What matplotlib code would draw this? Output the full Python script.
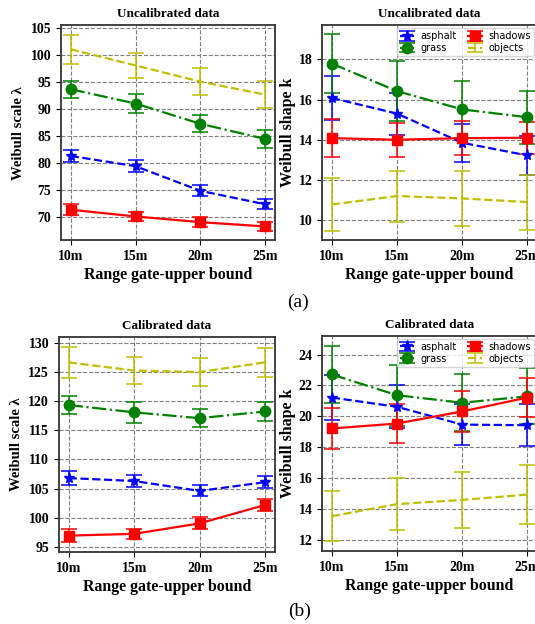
import numpy as np
import matplotlib.pyplot as plt

plt.rcParams['font.family'] = ['Liberation Serif', 'DejaVu Serif']

ranges = ['10m', '15m', '20m', '25m']
classes = ['asphalt', 'grass', 'shadows', 'objects']

# Weibull scale (lambda), uncalibrated: mean and error half-width
scale_unc = {
    'asphalt': [81.35, 79.45, 74.9, 72.4],
    'grass':   [93.7, 91.05, 87.3, 84.5],
    'shadows': [71.4, 70.15, 69.1, 68.3],
    'objects': [101.1, 98.1, 95.1, 92.7],
}
scale_unc_err = {
    'asphalt': [1.15, 1.15, 1.0, 0.95],
    'grass':   [1.6, 1.75, 1.6, 1.7],
    'shadows': [1.0, 0.9, 0.9, 0.8],
    'objects': [2.65, 2.35, 2.5, 2.5],
}

# Weibull shape (k), uncalibrated
shape_unc = {
    'asphalt': [16.08, 15.3, 13.85, 13.22],
    'grass':   [17.79, 16.42, 15.51, 15.12],
    'shadows': [14.08, 14.0, 14.08, 14.1],
    'objects': [10.78, 11.2, 11.08, 10.9],
}
shape_unc_err = {
    'asphalt': [1.1, 1.05, 0.95, 0.95],
    'grass':   [1.47, 1.5, 1.4, 1.33],
    'shadows': [0.95, 0.85, 0.83, 0.8],
    'objects': [1.3, 1.27, 1.35, 1.37],
}

# Weibull scale (lambda), calibrated
scale_cal = {
    'asphalt': [106.8, 106.3, 104.6, 106.1],
    'grass':   [119.3, 118.05, 117.05, 118.2],
    'shadows': [96.95, 97.25, 99.05, 102.2],
    'objects': [126.6, 125.2, 124.95, 126.6],
}
scale_cal_err = {
    'asphalt': [1.2, 1.05, 0.95, 1.05],
    'grass':   [1.6, 1.75, 1.5, 1.6],
    'shadows': [1.05, 0.9, 1.05, 1.05],
    'objects': [2.65, 2.3, 2.45, 2.5],
}

# Weibull shape (k), calibrated
shape_cal = {
    'asphalt': [21.22, 20.62, 19.47, 19.43],
    'grass':   [22.71, 21.37, 20.88, 21.3],
    'shadows': [19.22, 19.54, 20.32, 21.22],
    'objects': [13.55, 14.33, 14.6, 14.95],
}
shape_cal_err = {
    'asphalt': [1.47, 1.4, 1.33, 1.37],
    'grass':   [1.85, 1.98, 1.85, 1.8],
    'shadows': [1.32, 1.23, 1.3, 1.25],
    'objects': [1.62, 1.67, 1.83, 1.92],
}

styles = {
    'asphalt': dict(color='b', ls='--', marker='*', ms=8),
    'grass':   dict(color='g', ls='-.', marker='o', ms=7.5),
    'shadows': dict(color='r', ls='-', marker='s', ms=7.5),
    'objects': dict(color='y', ls='--', marker='', ms=0),
}

fig = plt.figure(figsize=(5.35, 6.24), dpi=100)
ax_tl = fig.add_axes([0.114, 0.615, 0.400, 0.3446])
ax_tr = fig.add_axes([0.602, 0.615, 0.402, 0.3446])
ax_bl = fig.add_axes([0.110, 0.1154, 0.404, 0.3446])
ax_br = fig.add_axes([0.602, 0.117, 0.402, 0.3446])

x = np.arange(len(ranges))


def draw(ax, vals, errs, title, ylabel, ylim, ylabel_size, ylabel_pad, legend=False):
    for c in classes:
        st = styles[c]
        ax.errorbar(x, vals[c], yerr=errs[c], color=st['color'], ls=st['ls'],
                    marker=st['marker'], ms=st['ms'], lw=1.6, elinewidth=1.1,
                    capsize=5.5, capthick=1.1, label=c)
    ax.set_xticks(x)
    ax.set_xticklabels(ranges)
    ax.set_xlim(-0.15, 3.15)
    ax.set_ylim(*ylim)
    ax.grid(True, ls='--', color='gray', lw=0.8)
    ax.set_axisbelow(True)
    for sp in ax.spines.values():
        sp.set_color('#333333')
        sp.set_linewidth(1.3)
    ax.tick_params(labelsize=10)
    for lab in ax.get_xticklabels() + ax.get_yticklabels():
        lab.set_fontweight('bold')
    ax.set_title(title, fontsize=9.5, fontweight='bold', pad=6)
    ax.set_xlabel('Range gate-upper bound', fontsize=11.4, fontweight='bold', labelpad=3)
    ax.set_ylabel(ylabel, fontsize=ylabel_size, fontweight='bold', labelpad=ylabel_pad)
    if legend:
        ax.legend(loc='upper right', ncol=2, prop={'family': 'DejaVu Sans', 'size': 7},
                  borderpad=0.3, labelspacing=0.2, columnspacing=1.2,
                  handletextpad=0.7, handlelength=1.4, borderaxespad=0.3)


draw(ax_tl, scale_unc, scale_unc_err, 'Uncalibrated data', 'Weibull scale λ', (65.75, 105.55), 10.5, 4)
ax_tl.set_yticks([70, 75, 80, 85, 90, 95, 100, 105])
draw(ax_tr, shape_unc, shape_unc_err, 'Uncalibrated data', 'Weibull shape k', (9.0, 19.7), 11.5, 1.5, legend=True)
ax_tr.set_yticks([10, 12, 14, 16, 18])
draw(ax_bl, scale_cal, scale_cal_err, 'Calibrated data', 'Weibull scale λ', (94.15, 130.95), 10.5, 4)
ax_bl.set_yticks([95, 100, 105, 110, 115, 120, 125, 130])
draw(ax_br, shape_cal, shape_cal_err, 'Calibrated data', 'Weibull shape k', (11.3, 25.2), 11.5, 1.5, legend=True)
ax_br.set_yticks([12, 14, 16, 18, 20, 22, 24])

fig.text(0.557, 1 - 302 / 624, '(a)', ha='center', va='center', fontsize=14)
fig.text(0.559, 1 - 611 / 624, '(b)', ha='center', va='center', fontsize=14)

fig.savefig('out.png', dpi=100)
